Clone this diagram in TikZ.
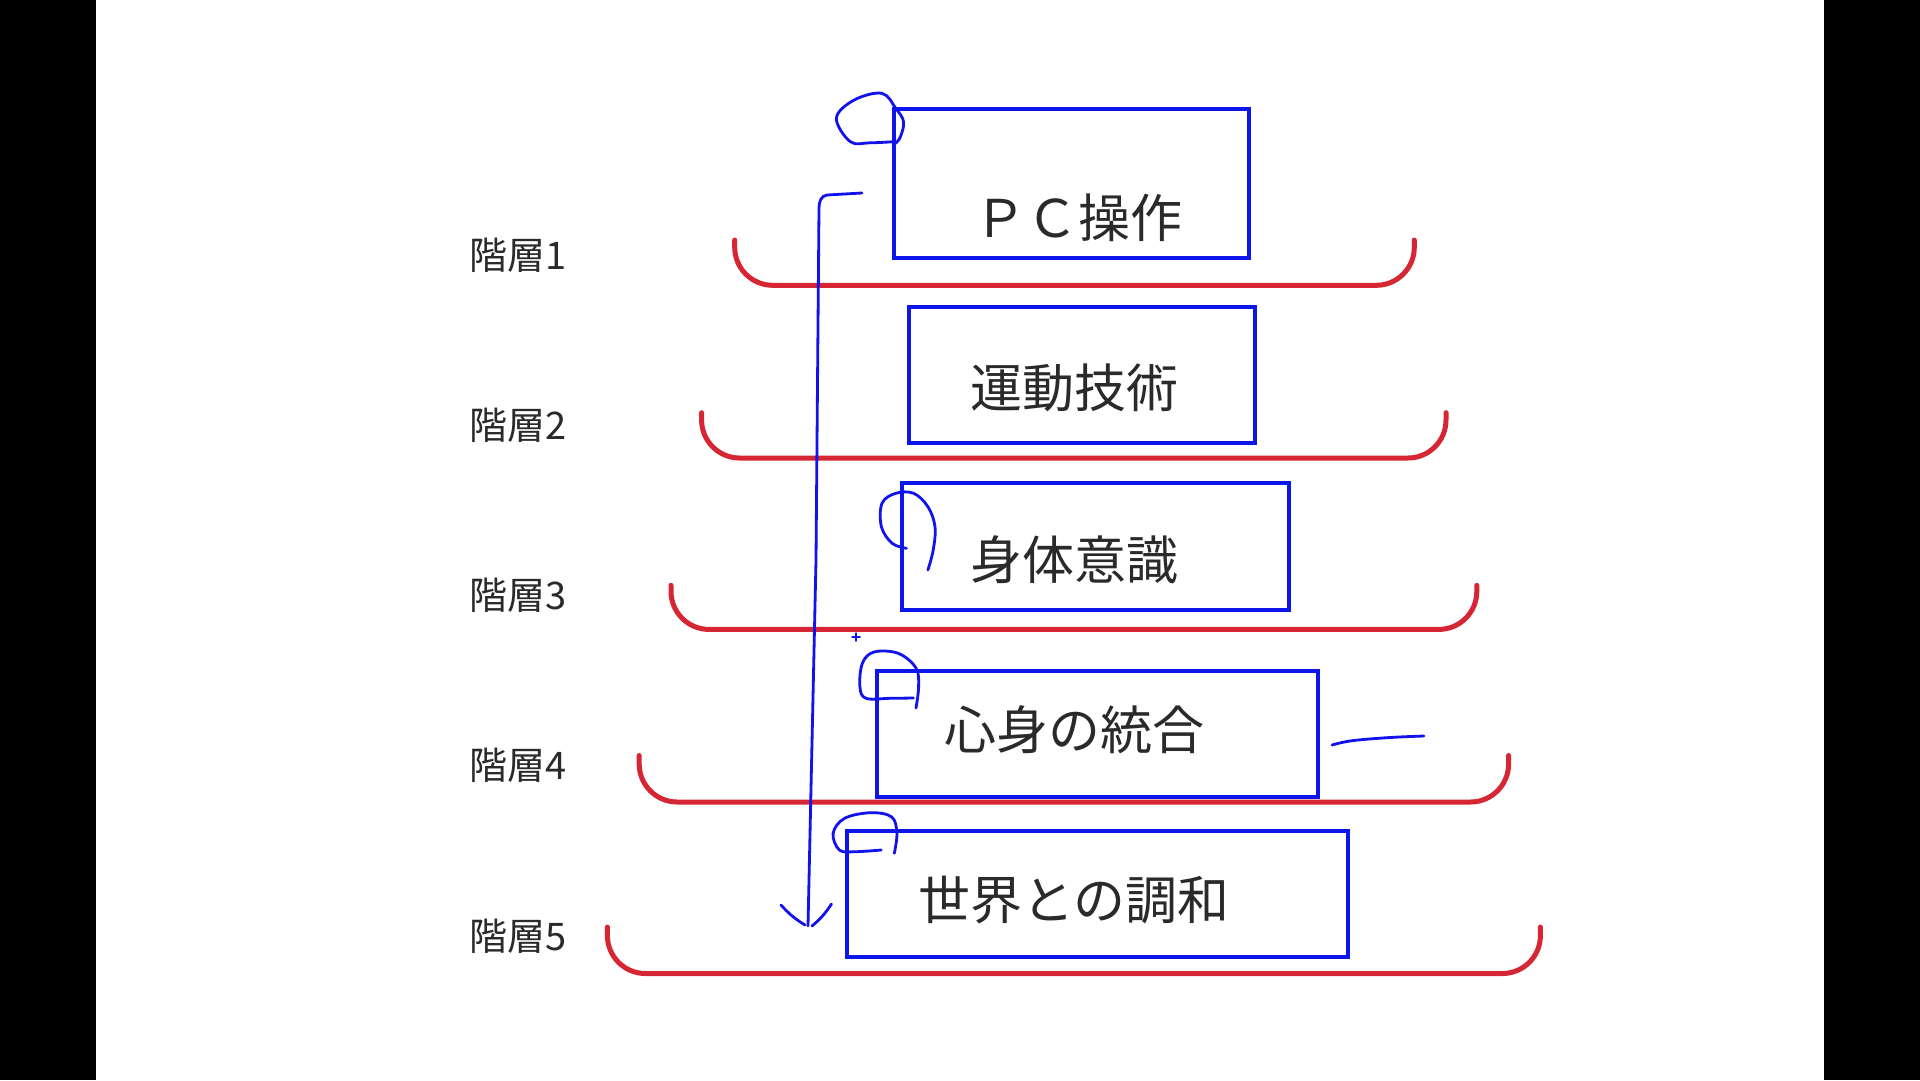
\documentclass[tikz,border=0pt]{standalone}
\usepackage{fontspec}
\setmainfont{Noto Sans CJK JP}
\definecolor{penblue}{RGB}{18,18,238}
\definecolor{boxblue}{RGB}{12,22,235}
\definecolor{bracketred}{RGB}{214,38,52}
\definecolor{ink}{RGB}{42,42,42}
\begin{document}
\begin{tikzpicture}[x=1pt,y=-1pt,
  layerbox/.style={draw=boxblue,line width=3.2pt,rectangle,inner sep=0pt},
  boxtext/.style={text=ink,font=\fontsize{52}{60}\selectfont,inner sep=0pt},
  layerlabel/.style={text=ink,font=\fontsize{38}{44}\selectfont,anchor=west,inner sep=0pt},
  bracket/.style={draw=bracketred,line width=5pt,rounded corners=38pt,line cap=round},
  pen/.style={draw=penblue,line width=2.8pt,line cap=round,line join=round}]
% canvas
\useasboundingbox (0,0) rectangle (1920,1080);
\fill[white] (0,0) rectangle (1920,1080);
\fill[black] (0,0) rectangle (96,1080);
\fill[black] (1824,0) rectangle (1920,1080);

% layer labels
\node[layerlabel] (l1) at (469,255) {階層1};
\node[layerlabel] (l2) at (469,425) {階層2};
\node[layerlabel] (l3) at (469,595) {階層3};
\node[layerlabel] (l4) at (469,765) {階層4};
\node[layerlabel] (l5) at (469,936) {階層5};

% red brackets
\draw[bracket] (734.7,240) |- (1414.3,285.3) -- (1414.3,240);
\draw[bracket] (701.6,412.7) |- (1446,458) -- (1446,412.7);
\draw[bracket] (671,585.3) |- (1476.8,629.4) -- (1476.8,585.3);
\draw[bracket] (639.2,755.5) |- (1508.6,802) -- (1508.6,755.5);
\draw[bracket] (607.4,927) |- (1540.4,973.5) -- (1540.4,927);

% boxes
\node[layerbox,minimum width=355pt,minimum height=149pt] (b1) at (1071.5,183.5) {};
\node[layerbox,minimum width=346pt,minimum height=136pt] (b2) at (1082,375) {};
\node[layerbox,minimum width=387pt,minimum height=127pt] (b3) at (1095.5,546.5) {};
\node[layerbox,minimum width=441pt,minimum height=126pt] (b4) at (1097.5,734) {};
\node[layerbox,minimum width=501pt,minimum height=126pt] (b5) at (1097.5,894) {};

% box texts
\node[boxtext] (t1) at (1078,218) {ＰＣ操作};
\node[boxtext] (t2) at (1074,388) {運動技術};
\node[boxtext] (t3) at (1074,560) {身体意識};
\node[boxtext] (t4) at (1074,730) {心身の統合};
\node[boxtext] (t5) at (1074,900) {世界との調和};

% hand-drawn pen annotations
\coordinate (penstart) at (862,193);
\coordinate (pentip) at (808,926);
\draw[pen] (penstart) -- (827,195) to[out=185,in=90] (819,208) -- (816,560) -- (pentip);
\draw[pen] (781,905) to[bend right=8] (805,925);
\draw[pen] (831.5,904) to[bend left=8] (812,926);

\draw[pen] plot[smooth,tension=0.6] coordinates {(893.8,141.7) (870,142.8) (850.3,141.7) (836.4,118) (854.2,100) (881.9,93.3) (895.7,108.3) (903.6,122) (899.7,138.3) (893,145)};
\draw[pen] plot[smooth,tension=0.6] coordinates {(906.4,548.3) (892.1,543.3) (881.4,526.7) (882,503.3) (895.7,493.3) (913.6,493.3) (927.9,506.7) (935,526.7) (933.2,550) (927.9,570)};
\draw[pen] plot[smooth,tension=0.6] coordinates {(916,708) (918.6,686.7) (916,668) (898.2,653.3) (874,652) (862.4,663.3) (859.9,686.7) (866,698.3) (890,698.3) (913.5,698)};
\draw[pen] plot[smooth,tension=0.6] coordinates {(894.3,853.3) (896.9,833.3) (891.7,817) (870.8,812.7) (844.6,818.3) (833.1,833.3) (839.4,850) (855.1,851.7) (881.2,850)};
\draw[pen,line width=1.5pt] (852,637) -- (860,637) (856,633) -- (856,641);
\draw[pen] plot[smooth,tension=0.6] coordinates {(1332,745) (1352,740.7) (1390,737.5) (1424,736)};
\end{tikzpicture}
\end{document}
